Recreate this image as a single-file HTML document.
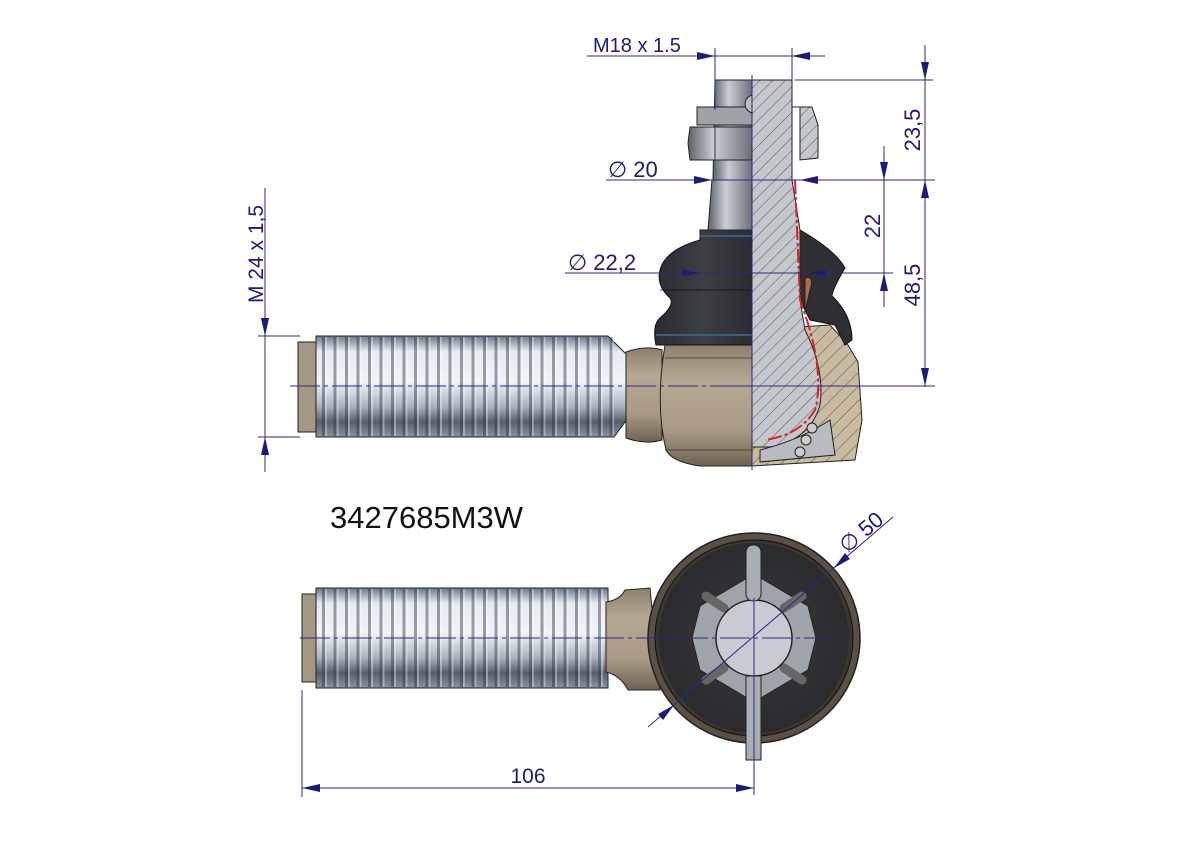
<!DOCTYPE html>
<html><head><meta charset="utf-8"><style>
html,body{margin:0;padding:0;background:#fff}
svg{display:block}
text{font-family:"Liberation Sans",sans-serif;fill:#1a1a80}
</style></head><body>
<svg width="1191" height="842" viewBox="0 0 1191 842" xmlns="http://www.w3.org/2000/svg">
<defs>
<linearGradient id="sh" x1="0" y1="0" x2="0" y2="1">
<stop offset="0" stop-color="#6a7888"/><stop offset="0.15" stop-color="#e4eaf0"/><stop offset="0.45" stop-color="#f0f4f8"/><stop offset="0.7" stop-color="#a8b2be"/><stop offset="0.85" stop-color="#56606c"/><stop offset="1" stop-color="#8a94a0"/></linearGradient>
<pattern id="thr" width="11.5" height="10" patternUnits="userSpaceOnUse"><rect x="0" y="0" width="3" height="10" fill="#2a3440" opacity="0.45"/><rect x="3" y="0" width="2" height="10" fill="#fff" opacity="0.35"/></pattern>
<linearGradient id="tan" x1="0" y1="0" x2="0" y2="1"><stop offset="0" stop-color="#8c7f6c"/><stop offset="0.3" stop-color="#b6a994"/><stop offset="0.7" stop-color="#a89a84"/><stop offset="1" stop-color="#6e6252"/></linearGradient>
<linearGradient id="boot" x1="0" y1="0" x2="1" y2="0"><stop offset="0" stop-color="#2a2c30"/><stop offset="0.5" stop-color="#3c3f44"/><stop offset="1" stop-color="#2a2c30"/></linearGradient>
<linearGradient id="stud" x1="0" y1="0" x2="1" y2="0"><stop offset="0" stop-color="#5b6068"/><stop offset="0.4" stop-color="#c9ced4"/><stop offset="1" stop-color="#6b7078"/></linearGradient>
<pattern id="hat" width="9" height="9" patternUnits="userSpaceOnUse" patternTransform="rotate(45)"><rect width="9" height="9" fill="#c4c8cc"/><line x1="0" y1="0" x2="0" y2="9" stroke="#555" stroke-width="1"/></pattern>
<pattern id="hat2" width="10" height="10" patternUnits="userSpaceOnUse" patternTransform="rotate(45)"><rect width="10" height="10" fill="#c9bba2"/><line x1="0" y1="0" x2="0" y2="10" stroke="#554" stroke-width="1"/></pattern>
<radialGradient id="disk" cx="0.5" cy="0.5" r="0.5"><stop offset="0" stop-color="#3a3b3e"/><stop offset="1" stop-color="#2b2b2e"/></radialGradient>
</defs>

<!-- ===== TOP VIEW ===== -->
<rect x="298" y="342" width="20" height="90" fill="#a39883" stroke="#222" stroke-width="1"/>
<path d="M316 336 L608 336 L628 356 L628 418 L614 437 L316 437 Z" fill="url(#sh)" stroke="#222"/>
<rect x="318" y="337" width="296" height="99" fill="url(#thr)"/>
<path d="M626 352 Q645 345 662 350 L662 440 Q645 445 626 438 Z" fill="url(#tan)" stroke="#222"/>
<path d="M665 345 L752 345 L752 466 L700 466 Q672 462 666 450 Q655 405 665 345 Z" fill="url(#tan)" stroke="#222"/>
<line x1="665" y1="358" x2="752" y2="358" stroke="#433" stroke-width="0.7"/>
<line x1="665" y1="450" x2="752" y2="450" stroke="#433" stroke-width="0.7"/>
<path d="M700 230 L752 230 L752 345 L656 345 Q652 325 660 318 Q675 305 670 298 Q656 285 660 270 Q665 250 700 240 Z" fill="url(#boot)" stroke="#111"/>
<line x1="660" y1="290" x2="752" y2="290" stroke="#111" stroke-width="0.8"/>
<line x1="656" y1="335" x2="752" y2="335" stroke="#3a5a8a" stroke-width="2"/>
<line x1="700" y1="236" x2="752" y2="236" stroke="#3a5a8a" stroke-width="2"/>
<path d="M712 180 L752 180 L752 230 L708 230 Z" fill="url(#stud)" stroke="#222"/>
<path d="M715 80 L752 80 L752 180 L713 180 Z" fill="url(#stud)" stroke="#222"/>
<path d="M697 107 L752 107 L752 125 L697 125 Z" fill="#9ea3a8" stroke="#222"/>
<path d="M690 127 L752 127 L752 160 L690 160 L688 143 Z" fill="url(#stud)" stroke="#222"/>
<line x1="715" y1="127" x2="715" y2="160" stroke="#333"/>
<circle cx="754" cy="104" r="9" fill="#bbb" stroke="#222"/>
<path d="M752 330 L830 325 L848 345 L858 362 L862 420 L855 460 L752 466 Z" fill="url(#hat2)" stroke="#222"/>
<path d="M800 230 Q835 250 845 268 Q832 290 832 296 Q852 315 852 340 L845 345 L835 325 L810 320 L800 300 Z" fill="#2d2f33" stroke="#111"/>
<path d="M752 80 L792 80 L792 180 L800 230 L800 300 L805 330 Q825 370 820 405 Q810 440 770 447 L752 447 Z" fill="url(#hat)" stroke="#222"/>
<path d="M792 107 L812 107 L818 125 L818 158 L800 160 L800 107 Z" fill="url(#hat)" stroke="#222"/>
<path d="M795 180 L800 300 Q826 370 815 410 Q800 435 765 440" fill="none" stroke="#e02020" stroke-width="2" stroke-dasharray="14 3 3 3"/>
<path d="M805 278 Q815 275 810 290 L805 312 Z" fill="#b06a4a" stroke="#222"/>
<path d="M760 450 Q800 440 830 420 L835 455 L760 462 Z" fill="#b8bcc0" stroke="#222"/>
<circle cx="812" cy="428" r="5" fill="#ccc" stroke="#222"/><circle cx="806" cy="440" r="5" fill="#ccc" stroke="#222"/><circle cx="800" cy="452" r="5" fill="#ccc" stroke="#222"/>

<g stroke="#2a2a8a" stroke-width="1" fill="none">
<line x1="752" y1="75" x2="752" y2="470" stroke-dasharray="30 4 4 4"/>
<line x1="290" y1="386" x2="935" y2="386" stroke-dasharray="30 4 4 4"/>
<line x1="587" y1="56" x2="825" y2="56"/>
<line x1="715" y1="48" x2="715" y2="110"/><line x1="792" y1="48" x2="792" y2="80"/>
<line x1="795" y1="80" x2="933" y2="80"/>
<line x1="606" y1="180" x2="935" y2="180"/>
<line x1="565" y1="273" x2="893" y2="273"/>
<line x1="720" y1="386" x2="933" y2="386"/>
<line x1="925" y1="45" x2="925" y2="387"/>
<line x1="884" y1="146" x2="884" y2="307"/>
<line x1="265" y1="188" x2="265" y2="472"/>
<line x1="258" y1="336" x2="300" y2="336"/><line x1="258" y1="437" x2="300" y2="437"/>
</g>
<g fill="#1a1a80">
<path d="M715 56 l-18 -4 v8 z"/><path d="M792 56 l18 -4 v8 z"/>
<path d="M712 180 l-18 -4 v8 z"/><path d="M800 180 l18 -4 v8 z"/>
<path d="M700 273 l-18 -3 v6 z"/><path d="M808 273 l18 -3 v6 z"/>
<path d="M925 80 l-4 -18 h8 z"/><path d="M925 180 l-4 18 h8 z"/><path d="M925 386 l-4 -18 h8 z"/>
<path d="M884 180 l-4 -18 h8 z"/><path d="M884 273 l-4 18 h8 z"/>
<path d="M265 336 l-4 -18 h8 z"/><path d="M265 437 l-4 18 h8 z"/>
</g>
<text x="593" y="52" font-size="20">M18 x 1.5</text>
<text x="608" y="177" font-size="22">∅ 20</text>
<text x="568" y="270" font-size="22">∅ 22,2</text>
<text transform="translate(920,130) rotate(-90)" font-size="22" text-anchor="middle">23,5</text>
<text transform="translate(920,285) rotate(-90)" font-size="22" text-anchor="middle">48,5</text>
<text transform="translate(880,226) rotate(-90)" font-size="22" text-anchor="middle">22</text>
<text transform="translate(263,254) rotate(-90)" font-size="21" text-anchor="middle">M  24  x 1,5</text>

<text x="330" y="528" font-size="31" style="fill:#111">3427685M3W</text>

<!-- ===== BOTTOM VIEW ===== -->
<rect x="302" y="594" width="16" height="88" fill="#a39883" stroke="#222"/>
<path d="M316 588 L608 588 L608 688 L316 688 Z" fill="url(#sh)" stroke="#222"/>
<rect x="318" y="589" width="288" height="98" fill="url(#thr)"/>
<path d="M606 602 Q620 600 625 590 L650 588 L660 690 L628 690 Q620 675 606 672 Z" fill="url(#tan)" stroke="#222"/>
<ellipse cx="754" cy="638" rx="106" ry="105" fill="#5a5044" stroke="#222" stroke-width="1.5"/>
<ellipse cx="754" cy="638" rx="99" ry="98" fill="#3a3630" stroke="#111"/>
<circle cx="754" cy="638" r="95" fill="url(#disk)"/>
<polygon points="754,574 808,606 816,638 808,670 754,702 700,670 692,638 700,606" fill="#9ea4aa" stroke="#222"/>
<g stroke="#666" stroke-width="9" stroke-linecap="round">
<line x1="784" y1="608" x2="802" y2="596"/><line x1="784" y1="668" x2="802" y2="680"/>
<line x1="724" y1="608" x2="706" y2="596"/><line x1="724" y1="668" x2="706" y2="680"/>
</g>
<circle cx="754" cy="638" r="38" fill="#c8ccd2" stroke="#222" stroke-width="1.5"/>
<rect x="746" y="545" width="15" height="56" rx="7" fill="#a9aeb4" stroke="#222"/>
<rect x="746" y="676" width="15" height="84" fill="#a9aeb4" stroke="#222"/>
<g stroke="#2a2a8a" stroke-width="1" fill="none">
<line x1="300" y1="638" x2="830" y2="638" stroke-dasharray="30 4 4 4"/>
<line x1="754" y1="598" x2="754" y2="795"/>
<line x1="302" y1="690" x2="302" y2="797"/>
<line x1="302" y1="788" x2="754" y2="788"/>
<line x1="648" y1="727" x2="893" y2="517"/>
</g>
<g fill="#1a1a80">
<path d="M302 788 l18 -4 v8 z"/><path d="M754 788 l-18 -4 v8 z"/>
<path d="M674 705 l-16 9 l5 6 z"/><path d="M834 568 l16 -9 l-5 -6 z"/>
</g>
<text x="528" y="783" font-size="21" text-anchor="middle">106</text>
<text transform="translate(866,538) rotate(-40)" font-size="22" text-anchor="middle">∅ 50</text>
</svg>
</body></html>
